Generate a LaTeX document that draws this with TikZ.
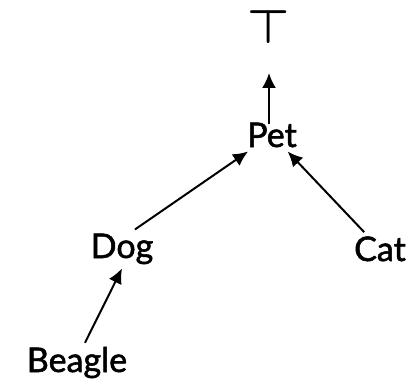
\documentclass[tikz,border=0pt]{standalone}
\usepackage{fontspec}
\setmainfont{Lato}[FakeBold=1.6,AutoFakeBold=1.6]
\usetikzlibrary{arrows.meta}
\begin{document}
\begin{tikzpicture}[x=1pt,y=1pt,
  term/.style={font=\fontsize{34}{40}\selectfont\bfseries, anchor=base, inner xsep=2pt, inner ysep=4pt},
  isa/.style={-{Latex[length=15pt,width=14pt]}, line width=2pt}]
\useasboundingbox (0,0) rectangle (419,378);
\node[term, inner ysep=0pt, anchor=south] (top) at (269,334) {\scalebox{1.9}{\fontsize{24}{28}\selectfont\boldmath$\top$}};
\node[term] (pet) at (272,231) {Pet};
\node[term] (dog) at (122,120) {Dog};
\node[term] (cat) at (380,117) {Cat};
\node[term] (beagle) at (77,6) {Beagle};
\draw[isa, shorten <=-6pt, shorten >=29pt] (top.south |- pet.north) -- (top.south);
\draw[isa] ([xshift=13pt]dog.north) -- (pet);
\draw[isa] (cat) -- (pet);
\draw[isa] ([xshift=8pt]beagle.north) -- (dog.south);
\end{tikzpicture}
\end{document}
